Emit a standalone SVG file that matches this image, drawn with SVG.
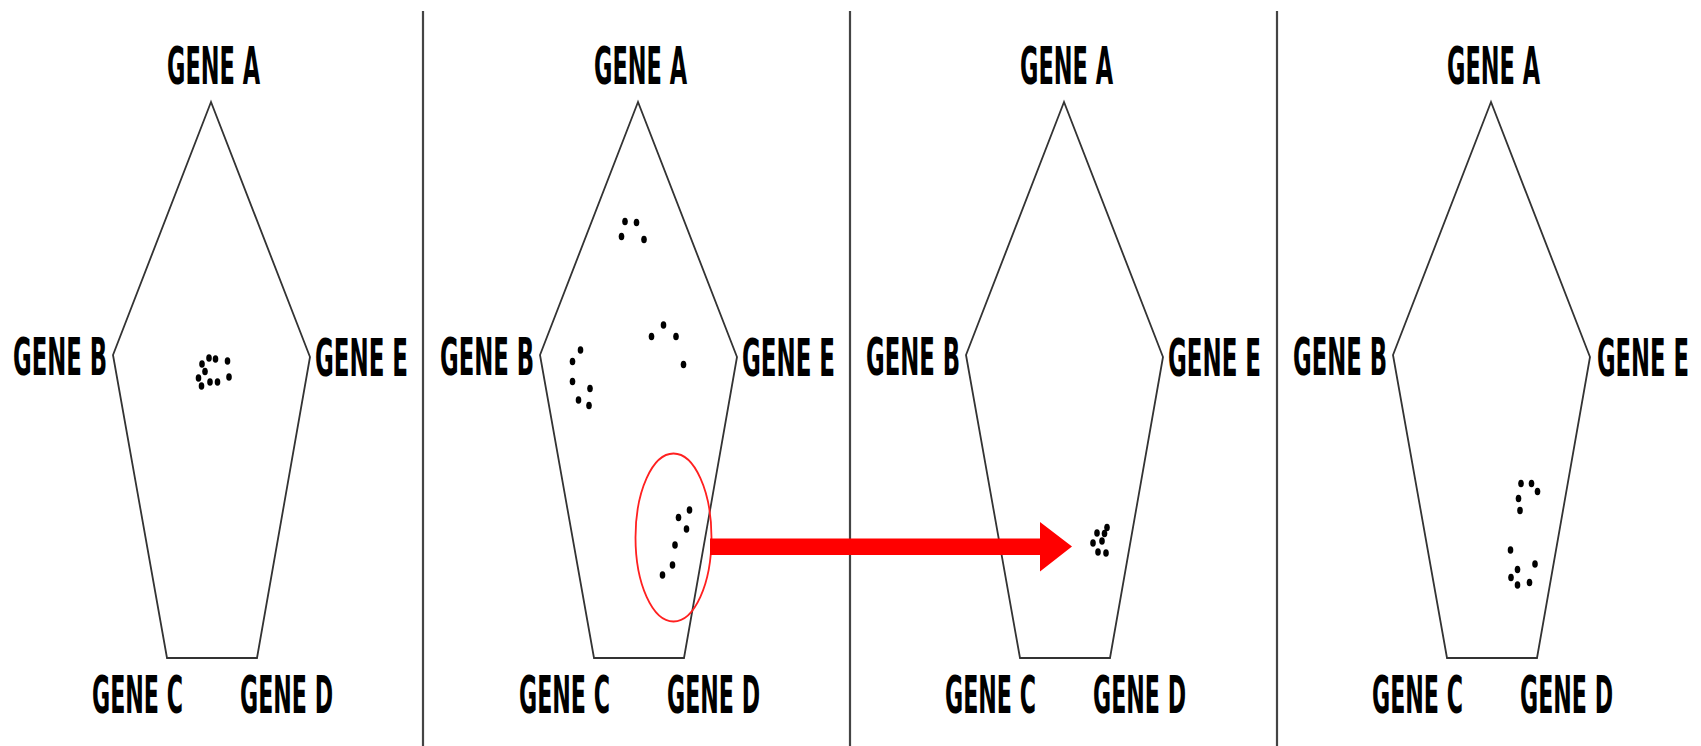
<svg xmlns="http://www.w3.org/2000/svg" xmlns:xlink="http://www.w3.org/1999/xlink" width="1701" height="746" viewBox="0 0 1701 746">
<style>
.bg{fill:#ffffff}
.pent{fill:none;stroke:#333333;stroke-width:1.8;stroke-linejoin:miter}
.div{stroke:#444444;stroke-width:2.2}
.lbl{font-family:"DejaVu Sans","Liberation Sans",sans-serif;font-weight:bold;font-size:52px;fill:#000000}
.dot{fill:#000000}
.circ{fill:none;stroke:#ff2020;stroke-width:1.8}
.arrow{fill:#ff0000}
</style>
<defs>
<polygon id="pent" class="pent" points="211,102 113,355 167,658 257,658 310,357"/>
<ellipse id="d" class="dot" cx="0" cy="0" rx="2.8" ry="3.8"/>
</defs>
<rect class="bg" x="0" y="0" width="1701" height="746"/>
<g id="dividers">
<line class="div" x1="423" y1="11" x2="423" y2="746"/>
<line class="div" x1="850" y1="11" x2="850" y2="746"/>
<line class="div" x1="1277" y1="11" x2="1277" y2="746"/>
</g>
<g id="panel1">
<use href="#pent" xlink:href="#pent"/>
<text class="lbl" transform="translate(167,84) scale(0.45,1)" textLength="206.7" lengthAdjust="spacingAndGlyphs">GENE A</text>
<text class="lbl" transform="translate(13,375) scale(0.45,1)" textLength="208.9" lengthAdjust="spacingAndGlyphs">GENE B</text>
<text class="lbl" transform="translate(315,376) scale(0.45,1)" textLength="206.7" lengthAdjust="spacingAndGlyphs">GENE E</text>
<text class="lbl" transform="translate(92,713) scale(0.45,1)" textLength="202.2" lengthAdjust="spacingAndGlyphs">GENE C</text>
<text class="lbl" transform="translate(240,713) scale(0.45,1)" textLength="206.7" lengthAdjust="spacingAndGlyphs">GENE D</text>
<g id="dots1">
<use href="#d" xlink:href="#d" x="209" y="358"/>
<use href="#d" xlink:href="#d" x="215.5" y="359"/>
<use href="#d" xlink:href="#d" x="227.5" y="361"/>
<use href="#d" xlink:href="#d" x="202" y="364"/>
<use href="#d" xlink:href="#d" x="205" y="371.5"/>
<use href="#d" xlink:href="#d" x="198.5" y="378"/>
<use href="#d" xlink:href="#d" x="210" y="382"/>
<use href="#d" xlink:href="#d" x="217.5" y="382"/>
<use href="#d" xlink:href="#d" x="229" y="377"/>
<use href="#d" xlink:href="#d" x="201.5" y="386"/>
</g>
</g>
<g id="panel2">
<use href="#pent" xlink:href="#pent" x="427"/>
<text class="lbl" transform="translate(594,84) scale(0.45,1)" textLength="206.7" lengthAdjust="spacingAndGlyphs">GENE A</text>
<text class="lbl" transform="translate(440,375) scale(0.45,1)" textLength="208.9" lengthAdjust="spacingAndGlyphs">GENE B</text>
<text class="lbl" transform="translate(742,376) scale(0.45,1)" textLength="206.7" lengthAdjust="spacingAndGlyphs">GENE E</text>
<text class="lbl" transform="translate(519,713) scale(0.45,1)" textLength="202.2" lengthAdjust="spacingAndGlyphs">GENE C</text>
<text class="lbl" transform="translate(667,713) scale(0.45,1)" textLength="206.7" lengthAdjust="spacingAndGlyphs">GENE D</text>
<g id="dots2">
<use href="#d" xlink:href="#d" x="625" y="221.5"/>
<use href="#d" xlink:href="#d" x="636.5" y="222.5"/>
<use href="#d" xlink:href="#d" x="621.5" y="236.5"/>
<use href="#d" xlink:href="#d" x="644" y="239.5"/>
<use href="#d" xlink:href="#d" x="651.5" y="336.5"/>
<use href="#d" xlink:href="#d" x="663.5" y="325"/>
<use href="#d" xlink:href="#d" x="676" y="336.5"/>
<use href="#d" xlink:href="#d" x="683.5" y="364.5"/>
<use href="#d" xlink:href="#d" x="580.5" y="350"/>
<use href="#d" xlink:href="#d" x="572.5" y="361.5"/>
<use href="#d" xlink:href="#d" x="572.5" y="381.5"/>
<use href="#d" xlink:href="#d" x="590" y="388.5"/>
<use href="#d" xlink:href="#d" x="578.5" y="400"/>
<use href="#d" xlink:href="#d" x="589" y="405.5"/>
<use href="#d" xlink:href="#d" x="689.5" y="510"/>
<use href="#d" xlink:href="#d" x="678.5" y="517.5"/>
<use href="#d" xlink:href="#d" x="686.5" y="529"/>
<use href="#d" xlink:href="#d" x="675" y="545"/>
<use href="#d" xlink:href="#d" x="672.5" y="565"/>
<use href="#d" xlink:href="#d" x="662.5" y="575"/>
</g>
<ellipse id="highlight" class="circ" cx="673.5" cy="537.5" rx="38" ry="84"/>
</g>
<g id="panel3">
<use href="#pent" xlink:href="#pent" x="853"/>
<text class="lbl" transform="translate(1020,84) scale(0.45,1)" textLength="206.7" lengthAdjust="spacingAndGlyphs">GENE A</text>
<text class="lbl" transform="translate(866,375) scale(0.45,1)" textLength="208.9" lengthAdjust="spacingAndGlyphs">GENE B</text>
<text class="lbl" transform="translate(1168,376) scale(0.45,1)" textLength="206.7" lengthAdjust="spacingAndGlyphs">GENE E</text>
<text class="lbl" transform="translate(945,713) scale(0.45,1)" textLength="202.2" lengthAdjust="spacingAndGlyphs">GENE C</text>
<text class="lbl" transform="translate(1093,713) scale(0.45,1)" textLength="206.7" lengthAdjust="spacingAndGlyphs">GENE D</text>
<g id="dots3">
<use href="#d" xlink:href="#d" x="1107" y="527.5"/>
<use href="#d" xlink:href="#d" x="1104.5" y="533.5"/>
<use href="#d" xlink:href="#d" x="1097" y="533"/>
<use href="#d" xlink:href="#d" x="1093" y="543"/>
<use href="#d" xlink:href="#d" x="1102" y="541"/>
<use href="#d" xlink:href="#d" x="1098" y="552"/>
<use href="#d" xlink:href="#d" x="1106" y="553"/>
</g>
</g>
<g id="panel4">
<use href="#pent" xlink:href="#pent" x="1280"/>
<text class="lbl" transform="translate(1447,84) scale(0.45,1)" textLength="206.7" lengthAdjust="spacingAndGlyphs">GENE A</text>
<text class="lbl" transform="translate(1293,375) scale(0.45,1)" textLength="208.9" lengthAdjust="spacingAndGlyphs">GENE B</text>
<text class="lbl" transform="translate(1597,376) scale(0.45,1)" textLength="204.4" lengthAdjust="spacingAndGlyphs">GENE E</text>
<text class="lbl" transform="translate(1372,713) scale(0.45,1)" textLength="202.2" lengthAdjust="spacingAndGlyphs">GENE C</text>
<text class="lbl" transform="translate(1520,713) scale(0.45,1)" textLength="206.7" lengthAdjust="spacingAndGlyphs">GENE D</text>
<g id="dots4">
<use href="#d" xlink:href="#d" x="1521" y="483.5"/>
<use href="#d" xlink:href="#d" x="1531.5" y="483.5"/>
<use href="#d" xlink:href="#d" x="1537.5" y="491.5"/>
<use href="#d" xlink:href="#d" x="1518.5" y="498.5"/>
<use href="#d" xlink:href="#d" x="1520" y="510.5"/>
<use href="#d" xlink:href="#d" x="1510.5" y="550"/>
<use href="#d" xlink:href="#d" x="1535" y="564"/>
<use href="#d" xlink:href="#d" x="1517.5" y="569.5"/>
<use href="#d" xlink:href="#d" x="1511" y="577.5"/>
<use href="#d" xlink:href="#d" x="1517.5" y="585"/>
<use href="#d" xlink:href="#d" x="1529.5" y="582.5"/>
</g>
</g>
<g id="connectors">
<polygon class="arrow" points="710,538.5 1040,538.5 1040,522 1072,546.5 1040,571.5 1040,555 710,555"/>
</g>
</svg>
